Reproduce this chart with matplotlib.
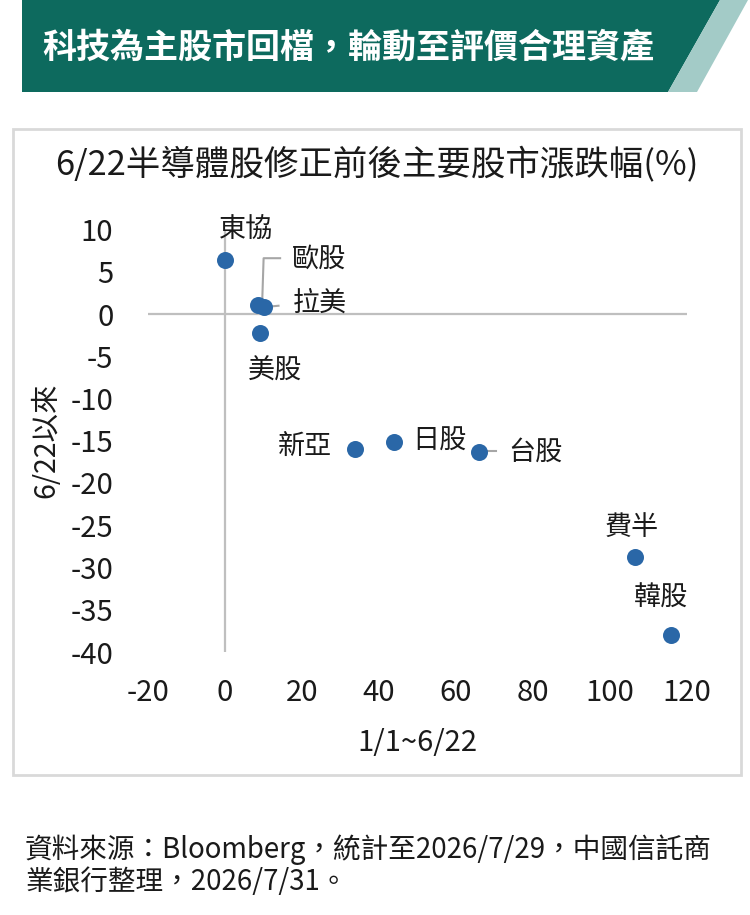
import matplotlib
matplotlib.use("Agg")
import matplotlib.pyplot as plt
from matplotlib.patches import Polygon, Rectangle
from matplotlib.transforms import IdentityTransform, ScaledTranslation

plt.rcParams['font.family'] = ['Noto Sans CJK TC', 'DejaVu Sans']

# ---- data ----
markets = ['東協', '歐股', '拉美', '美股', '新亞', '日股', '台股', '費半', '韓股']
ytd_change = [0.1, 8.6, 10.0, 9.2, 33.8, 43.8, 66.1, 106.6, 115.9]      # 1/1~6/22
since_change = [6.4, 1.1, 0.8, -2.2, -16.0, -15.1, -16.3, -28.7, -38.0]  # 6/22以來
x_ticks = [-20, 0, 20, 40, 60, 80, 100, 120]
y_ticks = [10, 5, 0, -5, -10, -15, -20, -25, -30, -35, -40]

header_text = '科技為主股市回檔，輪動至評價合理資產'
chart_title = '6/22半導體股修正前後主要股市漲跌幅(%)'
x_label = '1/1~6/22'
y_label = '6/22以來'
footer_lines = ['資料來源：Bloomberg，統計至2026/7/29，中國信託商', '業銀行整理，2026/7/31。']

W, H = 750, 915
fig = plt.figure(figsize=(W / 100, H / 100), dpi=100)
fig.patch.set_facecolor('white')

def P(x, y):
    return (x, H - y)

# header band
fig.patches.append(Polygon([P(22, 0), P(720, 0), P(668, 92), P(22, 92)], closed=True,
                           facecolor='#0d6a5e', edgecolor='none', transform=None))
fig.patches.append(Polygon([P(720, 0), P(748, 0), P(697, 92), P(668, 92)], closed=True,
                           facecolor='#a3cbc7', edgecolor='none', transform=None))
fig.text(42 / W, 1 - 47 / H, header_text, color='white', fontsize=24.5, fontweight='bold',
         ha='left', va='center')

# panel box
fig.patches.append(Rectangle(P(13, 775), 728, 646, facecolor='none', edgecolor='#d9d9d9',
                             linewidth=2, transform=None))
fig.text(377 / W, 1 - 165 / H, chart_title, color='#1a1a1a', fontsize=24.8,
         ha='center', va='center')

# axes
ax = fig.add_axes([148 / W, 1 - 652 / H, (687 - 148) / W, (652 - 229.5) / H])
ax.set_xlim(-20, 120)
ax.set_ylim(-40, 10)
for s in ax.spines.values():
    s.set_visible(False)
ax.axhline(0, color='#bfbfbf', linewidth=1.6, zorder=1)
ax.axvline(0, color='#bfbfbf', linewidth=1.6, zorder=1)
ax.set_xticks(x_ticks)
ax.set_yticks(y_ticks)
ax.set_xticklabels([str(v) for v in x_ticks])
ax.set_yticklabels([str(v) for v in y_ticks])
ax.tick_params(length=0, labelsize=21, labelcolor='#1a1a1a', pad=0)
ax.tick_params(axis='x', pad=19)
ax.tick_params(axis='y', pad=25)
ax.set_facecolor('none')

ax.scatter(ytd_change, since_change, s=150, color='#2a67a7', zorder=3, linewidths=0)

# label offsets in pixels (dx right, dy up) and alignment
offsets = {
    '東協': (21, 30, 'center'),
    '歐股': (34, 45, 'left'),
    '拉美': (29, 4, 'left'),
    '美股': (15, -39, 'center'),
    '新亞': (-23, 3, 'right'),
    '日股': (19, 0, 'left'),
    '台股': (29, -1, 'left'),
    '費半': (-4, 29, 'center'),
    '韓股': (-10, 37, 'center'),
}
for name, xv, yv in zip(markets, ytd_change, since_change):
    dx, dy, ha = offsets[name]
    ax.annotate(name, (xv, yv), xytext=(dx, dy), textcoords='offset pixels',
                ha=ha, va='center', fontsize=19.5, color='#1a1a1a')

# leader lines (pixel vertices relative to the point)
leaders = {
    '歐股': [(4, 0), (5.5, 46.5), (22, 46.5)],
    '拉美': [(4, 0.5), (15, 1.5)],
    '台股': [(8, 0.5), (17, 0.5)],
}
for name, verts in leaders.items():
    i = markets.index(name)
    tr = IdentityTransform() + ScaledTranslation(ytd_change[i], since_change[i], ax.transData)
    ax.plot([v[0] for v in verts], [v[1] for v in verts], color='#a6a6a6', linewidth=1.5,
            transform=tr, zorder=2, clip_on=False)

fig.text(417 / W, 1 - 743 / H, x_label, fontsize=21, color='#1a1a1a', ha='center', va='center')
fig.text(46 / W, 1 - 440 / H, y_label, fontsize=20.5, color='#1a1a1a', ha='center', va='center',
         rotation=90)

fig.text(25 / W, 1 - 850 / H, footer_lines[0], fontsize=19.9, color='#1a1a1a', ha='left', va='center')
fig.text(25 / W, 1 - 882 / H, footer_lines[1], fontsize=19.9, color='#1a1a1a', ha='left', va='center')

fig.savefig('out.png', dpi=100)
